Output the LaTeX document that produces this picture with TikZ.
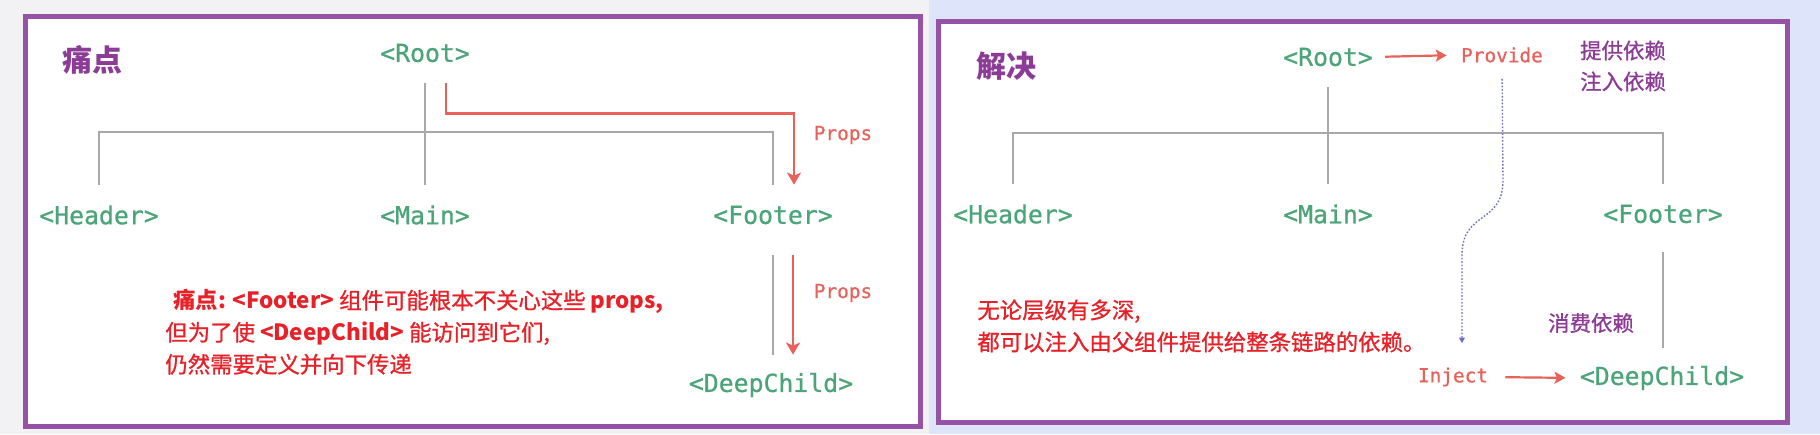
\documentclass[tikz,border=0pt]{standalone}
\usepackage{fontspec}
\setmonofont{DejaVu Sans Mono}
\newfontfamily\codefont[FakeBold=0.7]{DejaVu Sans Mono}
\newfontfamily\cjk{Noto Sans CJK SC}
\newfontfamily\cjkmid[FakeBold=0.9]{Noto Sans CJK SC}
\usepackage{xcolor}
\usetikzlibrary{arrows.meta}
\definecolor{vuegreen}{RGB}{76,165,120}
\definecolor{propred}{RGB}{230,98,90}
\definecolor{notered}{RGB}{232,32,40}
\definecolor{titlepurple}{RGB}{140,60,150}
\definecolor{framepurple}{RGB}{150,82,165}
\definecolor{treegray}{RGB}{168,168,168}
\definecolor{injectblue}{RGB}{110,108,195}
\definecolor{outergray}{RGB}{242,242,245}
\definecolor{outerblue}{RGB}{222,229,250}

\begin{document}
\begin{tikzpicture}[x=0.5pt,y=0.5pt,yscale=-1,xscale=1,
  comp/.style={text=vuegreen,font=\codefont\fontsize{12.4}{14}\selectfont,minimum height=30pt,inner sep=0pt},
  tag/.style={text=propred,font=\codefont\fontsize{9.7}{12}\selectfont,inner sep=0pt},
  title/.style={text=titlepurple,font=\cjk\bfseries\fontsize{15}{18}\selectfont},
  aside/.style={text=titlepurple,font=\cjkmid\fontsize{10.7}{15.5}\selectfont,align=center},
  note/.style={text=notered,font=\cjkmid\fontsize{11.2}{16}\selectfont,align=left,anchor=west,inner sep=0pt},
  tree/.style={draw=treegray,line width=0.75pt},
  props/.style={draw=propred,line width=1.2pt,-{Stealth[length=6pt,width=7pt,inset=1.5pt]}},
  flow/.style={draw=propred,line width=1.1pt,-{Stealth[length=5.5pt,width=6pt,inset=1.2pt]}},
  injectline/.style={draw=injectblue,line width=0.7pt,dash pattern=on 0.8pt off 0.9pt,-{Triangle[length=2.8pt,width=2.8pt]}},
  panel/.style={draw=framepurple,line width=2.5pt,fill=white}]

% backdrop and the two frames
\fill[outergray] (0,0) rectangle (929,434);
\fill[outerblue] (929,0) rectangle (1820,434);
\useasboundingbox (0,0) rectangle (1820,434);
\draw[panel] (25,16) rectangle (920,426);
\draw[panel] (938,21) rectangle (1787,422);

% left: props drilling
\node[title] (painT) at (92,60) {痛点};
\node[comp] (root) at (425,53) {<Root>};
\node[comp] (header) at (99,215) {<Header>};
\node[comp] (main) at (425,215) {<Main>};
\node[comp] (footer) at (773,215) {<Footer>};
\node[comp] (deep) at (771,385) {<DeepChild>};
\coordinate (bus) at (425,132);

\draw[tree] (root.south) -- (main.north);
\draw[tree] (header.north) -- (header.north |- bus) -- (footer.north |- bus) -- (footer.north);
\draw[tree,shorten <=5pt] (footer.south) -- (footer.south |- deep.north);

\draw[props] ([xshift=10.5pt]root.south) -- ++(0,30) -| ([xshift=10.5pt]footer.north);
\draw[props,shorten <=5pt] ([xshift=10pt]footer.south) -- ([xshift=10pt]footer.south |- deep.north);
\node[tag] (props1) at (843,135) {Props};
\node[tag] (props2) at (843,293) {Props};

\node[note] (painnote) at (165,332) {\hspace{4pt}{\cjk\bfseries 痛点: <Footer>} 组件可能根本不关心这些 {\cjk\bfseries props,}\\但为了使 {\cjk\bfseries <DeepChild>} 能访问到它们,\\仍然需要定义并向下传递};

% right: provide / inject
\node[title] (solveT) at (1006,66) {解决};
\node[comp] (rroot) at (1328,57) {<Root>};
\node[tag] (provide) at (1502,55) {Provide};
\node[aside] (asideP) at (1623,66) {提供依赖\\注入依赖};
\node[comp] (rheader) at (1013,214) {<Header>};
\node[comp] (rmain) at (1328,214) {<Main>};
\node[comp] (rfooter) at (1663,214) {<Footer>};
\node[comp] (rdeep) at (1662,378) {<DeepChild>};
\node[tag] (inject) at (1453,377) {Inject};
\node[aside] (consume) at (1591,323) {消费依赖};
\coordinate (rbus) at (1328,133);
\coordinate (bend1) at (1503,180);
\coordinate (bend2) at (1462,255);

\draw[tree] (rroot.south) -- (rmain.north);
\draw[tree] (rheader.north) -- (rheader.north |- rbus) -- (rfooter.north |- rbus) -- (rfooter.north);
\draw[tree,shorten <=4pt] (rfooter.south) -- (rfooter.south |- rdeep.north);

\draw[flow,shorten <=6pt,shorten >=7pt] (rroot.east) -- (provide.west);
\draw[flow,shorten <=8.5pt,shorten >=7pt] (inject.east) -- (rdeep.west);
\draw[injectline,shorten <=8pt,shorten >=12pt] (provide.south) -- (bend1) .. controls (1503,225) and (1462,210) .. (bend2) -- ([xshift=4.5pt]inject.north);

\node[note] (solvenote) at (977,326) {无论层级有多深,\\都可以注入由父组件提供给整条链路的依赖。};

\end{tikzpicture}
\end{document}
